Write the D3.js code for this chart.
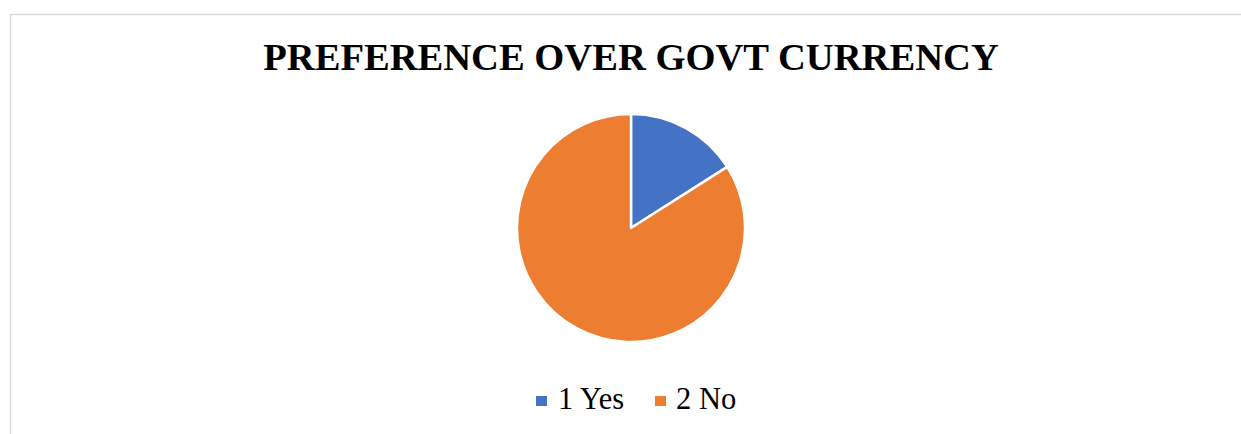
<!DOCTYPE html>
<html>
<head>
<meta charset="utf-8">
<script src="https://cdn.jsdelivr.net/npm/d3@7"></script>
<style>
  html, body { margin: 0; padding: 0; background: #fff; }
  svg { display: block; }
</style>
</head>
<body>
<svg id="chart" width="1241" height="434"></svg>
<script>
// Survey answers: preference over government currency
const categories = ["1 Yes", "2 No"];
const values = [16, 84];
const colors = ["#4472c4", "#ed7d31"];
const title = "PREFERENCE OVER GOVT CURRENCY";

const W = 1241, H = 434;
const svg = d3.select("#chart");

// chart area frame (extends past the right and bottom edges)
svg.append("rect")
  .attr("x", 10.5).attr("y", 14.5)
  .attr("width", W + 20).attr("height", H + 20)
  .attr("fill", "#fff")
  .attr("stroke", "#d9d9d9")
  .attr("stroke-width", 1.5);

svg.append("text")
  .attr("x", 631).attr("y", 70)
  .attr("text-anchor", "middle")
  .attr("font-family", "'Liberation Serif', 'Times New Roman', serif")
  .attr("font-weight", "bold")
  .attr("font-size", 38.6)
  .attr("fill", "#000")
  .text(title);

const cx = 631, cy = 228, r = 114;
const data = categories.map((c, i) => ({ name: c, value: values[i] }));
const pie = d3.pie().sort(null).value(d => d.value);
const arc = d3.arc().innerRadius(0).outerRadius(r);
const color = d3.scaleOrdinal().domain(categories).range(colors);

svg.append("g")
  .attr("transform", `translate(${cx},${cy})`)
  .selectAll("path")
  .data(pie(data))
  .join("path")
  .attr("d", arc)
  .attr("fill", d => color(d.data.name))
  .attr("stroke", "#fff")
  .attr("stroke-width", 2.5)
  .attr("stroke-linejoin", "round");

// legend
const legendItems = [
  { name: categories[0], sx: 536, tx: 558 },
  { name: categories[1], sx: 655, tx: 676 }
];
const lg = svg.append("g");
legendItems.forEach(it => {
  lg.append("rect")
    .attr("x", it.sx).attr("y", 396)
    .attr("width", 11).attr("height", 10)
    .attr("fill", color(it.name));
  lg.append("text")
    .attr("x", it.tx).attr("y", 409)
    .attr("font-family", "'Liberation Serif', 'Times New Roman', serif")
    .attr("font-size", 30.5)
    .attr("fill", "#000")
    .text(it.name);
});
</script>
</body>
</html>
